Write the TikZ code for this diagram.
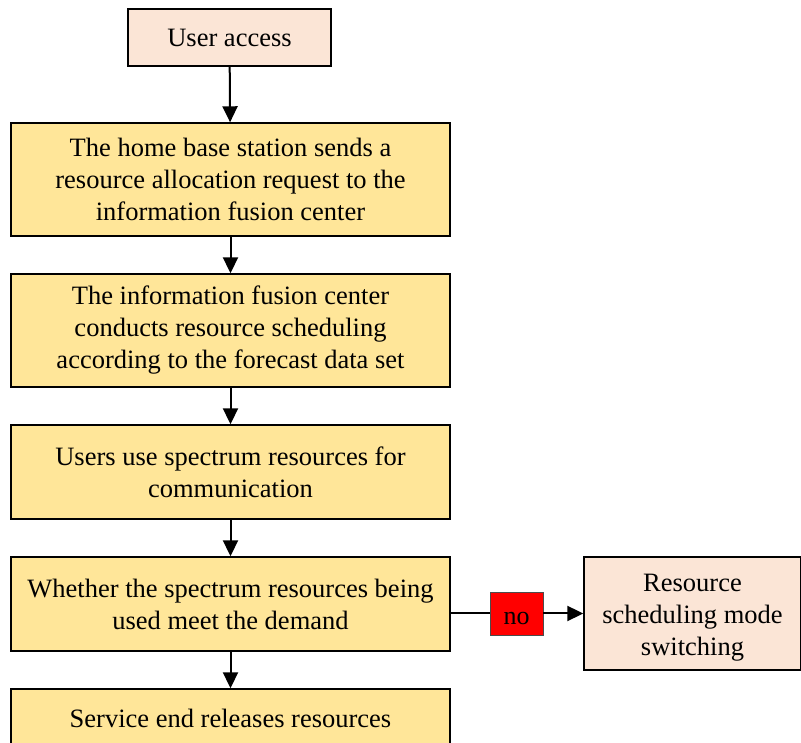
\documentclass[tikz,border=0pt]{standalone}
\usepackage{fontspec}
\setmainfont{Liberation Serif}
\usetikzlibrary{arrows.meta}
\definecolor{stepyellow}{HTML}{FFE699}
\definecolor{peach}{HTML}{FBE5D6}
\definecolor{alarmred}{HTML}{FF0000}
\tikzset{
  flowbox/.style={draw=black, line width=1.4pt, fill=stepyellow, rectangle,
    align=center, inner sep=0pt, font=\fontsize{26.5}{32}\selectfont},
  endbox/.style={flowbox, fill=peach},
  flowarrow/.style={line width=2pt, -{Triangle[width=15pt,length=16pt]}},
  tag/.style={draw=black!70, line width=0.8pt, fill=alarmred, inner sep=0pt,
    minimum width=53pt, minimum height=43pt},
  tagtext/.style={inner sep=0pt, font=\fontsize{26}{30}\selectfont},
  boxtext/.style={inner sep=0pt, align=center, font=\fontsize{26.5}{32}\selectfont}
}
\begin{document}
\begin{tikzpicture}[x=1pt,y=1pt]
\useasboundingbox (0,0) rectangle (801,743);
\clip (0,0) rectangle (801,743);
\fill[white] (0,0) rectangle (801,743);

\node[endbox, minimum width=203pt, minimum height=57pt] (access) at (229.5,705.5) {User access};
\node[flowbox, minimum width=439pt, minimum height=113pt] (request) at (230.5,563.5)
  {The home base station sends a\\resource allocation request to the\\information fusion center};
\node[flowbox, minimum width=439pt, minimum height=113pt] (schedule) at (230.5,412.5)
  {The information fusion center\\conducts resource scheduling\\according to the forecast data set};
\node[flowbox, minimum width=439pt, minimum height=94pt] (use) at (230.5,271)
  {Users use spectrum resources for\\communication};
\node[flowbox, minimum width=439pt, minimum height=94pt] (check) at (230.5,139)
  {Whether the spectrum resources being\\used meet the demand};
\node[flowbox, minimum width=439pt, minimum height=58pt] (release) at (230.5,25)
  {Service end releases resources};

% side branch: box and label, text set slightly below centre
\node[endbox, minimum width=217pt, minimum height=113pt] (switch) at (692.5,129.5) {};
\node[boxtext] (switchlabel) at ([yshift=-4pt]switch.center)
  {Resource\\scheduling mode\\switching};
\node[tag] (no) at (516.5,129.5) {};
\node[tagtext] (nolabel) at ([yshift=-5pt]no.center) {no};

\draw[flowarrow] (access) -- (request);
\draw[flowarrow] (request) -- (schedule);
\draw[flowarrow] (schedule) -- (use);
\draw[flowarrow] (use) -- (check);
\draw[flowarrow] (check) -- (release);
\draw[line width=2pt] (check.east |- no) -- (no);
\draw[flowarrow] (no) -- (switch);
\end{tikzpicture}
\end{document}
